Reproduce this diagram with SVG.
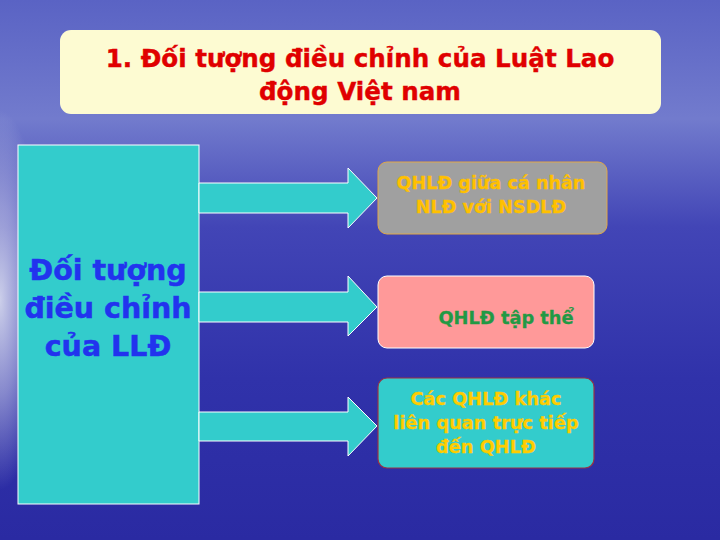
<svg xmlns="http://www.w3.org/2000/svg" width="720" height="540" viewBox="0 0 720 540">
<defs>
<linearGradient id="bg" x1="0" y1="0" x2="0" y2="1">
<stop offset="0" stop-color="#5a63c4"/>
<stop offset="0.22" stop-color="#727bcd"/>
<stop offset="0.42" stop-color="#4245b6"/>
<stop offset="0.7" stop-color="#3032aa"/>
<stop offset="1" stop-color="#2a2aa2"/>
</linearGradient>
<radialGradient id="glow" cx="0.5" cy="0.5" r="0.5">
<stop offset="0" stop-color="#dcdff0" stop-opacity="0.9"/>
<stop offset="0.5" stop-color="#dcdff0" stop-opacity="0.5"/>
<stop offset="1" stop-color="#dcdff0" stop-opacity="0"/>
</radialGradient>
</defs>
<style>
.b{font-family:"DejaVu Sans",Verdana,sans-serif;font-weight:bold;text-anchor:middle}
.arrow{fill:#33cccc;stroke:#ffffff;stroke-width:1}
</style>
<rect width="720" height="540" fill="url(#bg)"/>
<ellipse cx="0" cy="300" rx="45" ry="190" fill="url(#glow)"/>
<g id="title">
<rect x="60" y="30" width="601" height="84" rx="11" fill="#fdfbd2"/>
<text class="b" x="360" y="67" font-size="24.6" fill="#e00000" stroke="#e00000" stroke-width="0.4">1. Đối tượng điều chỉnh của Luật Lao</text>
<text class="b" x="360" y="100" font-size="24.6" fill="#e00000" stroke="#e00000" stroke-width="0.4">động Việt nam</text>
</g>
<g id="source">
<rect x="18" y="145" width="181" height="359" fill="#33cccc" stroke="#ffffff" stroke-width="1"/>
<text class="b" x="108" y="280" font-size="28.5" fill="#2233ee" stroke="#2233ee" stroke-width="0.5">Đối tượng</text>
<text class="b" x="108" y="318" font-size="28.5" fill="#2233ee" stroke="#2233ee" stroke-width="0.5">điều chỉnh</text>
<text class="b" x="108" y="356" font-size="28.5" fill="#2233ee" stroke="#2233ee" stroke-width="0.5">của LLĐ</text>
</g>
<g id="connectors">
<polygon class="arrow" points="199,183 348,183 348,168 377,198 348,228 348,213 199,213"/>
<polygon class="arrow" points="199,292 348,292 348,276 377,307 348,336 348,322 199,322"/>
<polygon class="arrow" points="199,412 348,412 348,397 377,426 348,456 348,441 199,441"/>
</g>
<g id="n1">
<rect x="378" y="162" width="229" height="72" rx="9" fill="#a0a0a0" stroke="#e0a848" stroke-width="1"/>
<text class="b" x="491" y="189" font-size="17.6" fill="#ffc000" stroke="#ffc000" stroke-width="0.3">QHLĐ giữa cá nhân</text>
<text class="b" x="491" y="213" font-size="17.6" fill="#ffc000" stroke="#ffc000" stroke-width="0.3">NLĐ với NSDLĐ</text>
</g>
<g id="n2">
<rect x="378" y="276" width="216" height="72" rx="9" fill="#ff9999" stroke="#ffffff" stroke-width="1"/>
<text class="b" x="506" y="324" font-size="17.8" fill="#229944" stroke="#229944" stroke-width="0.3">QHLĐ tập thể</text>
</g>
<g id="n3">
<rect x="378" y="378" width="216" height="90" rx="9" fill="#33cccc" stroke="#993344" stroke-width="1.2"/>
<text class="b" x="486" y="405" font-size="17.8" fill="#ffcc00" stroke="#ffcc00" stroke-width="0.3">Các QHLĐ khác</text>
<text class="b" x="486" y="429" font-size="17.8" fill="#ffcc00" stroke="#ffcc00" stroke-width="0.3">liên quan trực tiếp</text>
<text class="b" x="486" y="453" font-size="17.8" fill="#ffcc00" stroke="#ffcc00" stroke-width="0.3">đến QHLĐ</text>
</g>
</svg>
